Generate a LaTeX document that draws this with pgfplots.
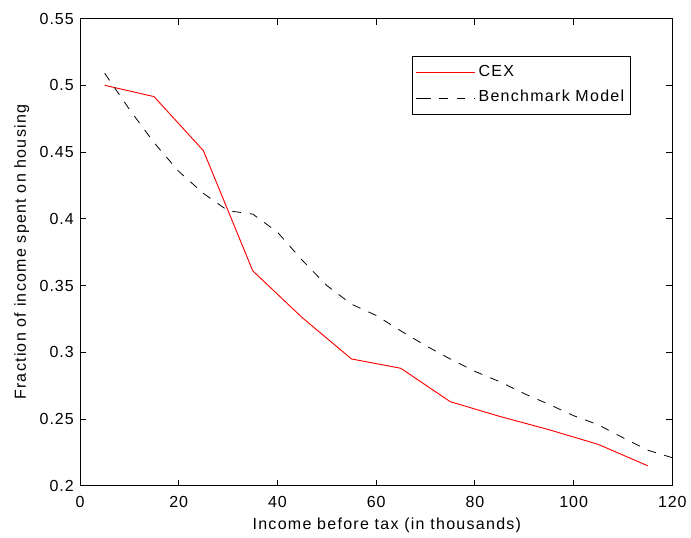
\documentclass[border=0pt]{standalone}
\usepackage{fontspec}
\setmainfont{Liberation Sans}[LetterSpace=6]
\newfontfamily\labelfont{Liberation Sans}[LetterSpace=8]
\usepackage{pgfplots}
\pgfplotsset{compat=1.18}
\usetikzlibrary{calc}

\begin{document}
\begin{tikzpicture}[x=1pt,y=1pt]
\begin{axis}[
    name=main,
    scale only axis=true,
    width=444.2pt,
    height=350.4pt,
    xmin=0, xmax=120,
    ymin=0.2, ymax=0.55,
    xtick={0,20,40,60,80,100,120},
    ytick={0.2,0.25,0.3,0.35,0.4,0.45,0.5,0.55},
    yticklabels={0.2,0.25,0.3,0.35,0.4,0.45,0.5,0.55},
    tick align=inside,
    major tick length=4.5pt,
    tick style={black, line width=0.6pt},
    axis line style={black, line width=0.75pt},
    /pgf/number format/assume math mode=true,
    tick label style={font=\fontsize{12}{14}\selectfont},
    xticklabel style={anchor=base, yshift=-16.5pt, inner sep=0pt},
    yticklabel style={anchor=east, xshift=-4.5pt, inner sep=0pt},
    label style={font=\labelfont\fontsize{12}{14}\selectfont},
    xlabel={Income before tax (in thousands)},
    ylabel={Fraction of income spent on housing},
    xlabel style={at={(axis description cs:0.518,-0.0933)}, anchor=base},
    ylabel style={at={(axis description cs:-0.0984,0.5)}, anchor=center},
    legend style={
        at={(0.9298,0.9204)}, anchor=north east,
        draw=black, line width=0.6pt, fill=white,
        font=\labelfont\fontsize{12}{14}\selectfont,
        inner xsep=2.5pt, inner ysep=2.6pt,
        row sep=0pt,
        nodes={inner xsep=2.1pt, inner ysep=3.6pt, text height=9pt, text depth=3pt},
    },
    legend cell align=left,
    legend image code/.code={
        \path (0pt,0pt) -- (4.5pt,0pt);
        \draw[#1] (4.5pt,0pt) -- (44.5pt,0pt);
    },
]
\addplot[red, line width=0.7pt] coordinates {
    (5,0.500) (15,0.4915) (25,0.451) (35,0.361) (45,0.326) (55,0.295)
    (65,0.288) (75,0.263) (85,0.252) (95,0.242) (105,0.231) (115,0.215)
};
\addlegendentry{CEX}

\addplot[black, line width=0.6pt, dash pattern=on 6.5pt off 6.5pt] coordinates {
    (5,0.509) (10,0.482) (15,0.457) (20,0.4355) (25,0.419) (30,0.406)
    (35,0.4035) (40,0.390) (45,0.369) (50,0.350) (55,0.336) (60,0.3276)
    (65,0.316) (70,0.305) (75,0.295) (80,0.2857) (85,0.278) (90,0.269)
    (95,0.261) (100,0.2525) (105,0.2457) (110,0.236) (115,0.2267) (120,0.221)
};
\addlegendentry{Benchmark Model}
\end{axis}
\path[use as bounding box] ($(main.south west)+(-60pt,-34pt)$) rectangle ($(main.north east)+(14pt,13.9pt)$);
\end{tikzpicture}
\end{document}
